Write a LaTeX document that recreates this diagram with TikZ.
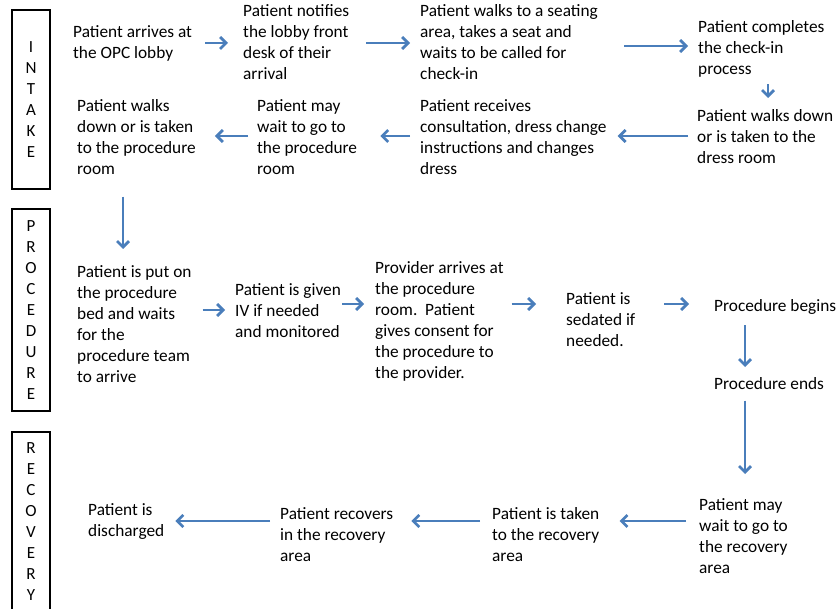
\documentclass[tikz,border=0pt]{standalone}
\usepackage{fontspec}
\setmainfont{Carlito}
\usetikzlibrary{arrows.meta}
\definecolor{arrblue}{HTML}{4A7EBB}
\begin{document}
\begin{tikzpicture}[x=1pt,y=-1pt,
  txt/.style={anchor=north west, align=left, inner sep=0pt, font=\fontsize{17.3}{21}\selectfont},
  phase/.style={draw, line width=2.7pt, minimum width=38pt, inner sep=0pt, align=center, font=\fontsize{17}{21}\selectfont},
  arr/.style={draw=arrblue, line width=2.7pt, -{Straight Barb[length=6pt,width=12pt]}}]
\useasboundingbox (0,0) rectangle (837,609);
% phase boxes
\node[phase, minimum height=179pt] (intake) at (31,99.5) {I\\N\\T\\A\\K\\E};
\node[phase, minimum height=202pt] (proc) at (31,310) {P\\R\\O\\C\\E\\D\\U\\R\\E};
\node[phase, minimum height=180pt] (recov) at (31,522) {R\\E\\C\\O\\V\\E\\R\\Y};
% intake
\node[txt] (n1) at (73,25) {Patient arrives at\\the OPC lobby};
\node[txt] (n2) at (243,4) {Patient notifies\\the lobby front\\desk of their\\arrival};
\node[txt] (n3) at (420,4) {Patient walks to a seating\\area, takes a seat and\\waits to be called for\\check-in};
\node[txt] (n4) at (698,20) {Patient completes\\the check-in\\process};
\node[txt] (n5) at (697,109) {Patient walks down\\or is taken to the\\dress room};
\node[txt] (n6) at (420,99) {Patient receives\\consultation, dress change\\instructions and changes\\dress};
\node[txt] (n7) at (257,99) {Patient may\\wait to go to\\the procedure\\room};
\node[txt] (n8) at (77,99) {Patient walks\\down or is taken\\to the procedure\\room};
% procedure
\node[txt] (n9) at (77,265) {Patient is put on\\the procedure\\bed and waits\\for the\\procedure team\\to arrive};
\node[txt] (n10) at (235,283) {Patient is given\\IV if needed\\and monitored};
\node[txt] (n11) at (375,261) {Provider arrives at\\the procedure\\room.\ \ Patient\\gives consent for\\the procedure to\\the provider.};
\node[txt] (n12) at (566,292) {Patient is\\sedated if\\needed.};
\node[txt] (n13) at (714,299) {Procedure begins};
\node[txt] (n14) at (714,377) {Procedure ends};
% recovery
\node[txt] (n15) at (699,498) {Patient may\\wait to go to\\the recovery\\area};
\node[txt] (n16) at (492,507) {Patient is taken\\to the recovery\\area};
\node[txt] (n17) at (280,507) {Patient recovers\\in the recovery\\area};
\node[txt] (n18) at (88,503) {Patient is\\discharged};
% arrows
\draw[arr, shorten <=13pt, shorten >=15pt] (n1.east |- 0,43) -- (n2.west |- 0,43);
\draw[arr, shorten <=17pt, shorten >=10pt] (n2.east |- 0,43) -- (n3.west |- 0,43);
\draw[arr, shorten <=26pt, shorten >=10pt] (n3.east |- 0,46) -- (n4.west |- 0,46);
\draw[arr, shorten <=7pt, shorten >=11pt] (n4.south -| 768,0) -- (n5.north -| 768,0);
\draw[arr, shorten <=9pt, shorten >=11pt] (n5.west |- 0,136) -- (n6.east |- 0,136);
\draw[arr, shorten <=10pt, shorten >=23pt] (n6.west |- 0,136) -- (n7.east |- 0,136);
\draw[arr, shorten <=9pt, shorten >=19pt] (n7.west |- 0,136) -- (n8.east |- 0,136);
\draw[arr, shorten <=22pt, shorten >=16pt] (n8.south -| 123,0) -- (n9.north -| 123,0);
\draw[arr, shorten <=11pt, shorten >=10pt] (n9.east |- 0,310) -- (n10.west |- 0,310);
\draw[arr, shorten <=1pt, shorten >=11pt] (n10.east |- 0,304) -- (n11.west |- 0,304);
\draw[arr, shorten <=8pt, shorten >=30pt] (n11.east |- 0,304) -- (n12.west |- 0,304);
\draw[arr, shorten <=29pt, shorten >=25pt] (n12.east |- 0,304) -- (n13.west |- 0,304);
\draw[arr, shorten <=11pt, shorten >=10pt] (n13.south -| 745,0) -- (n14.north -| 745,0);
\draw[arr, shorten <=11pt, shorten >=24pt] (n14.south -| 745,0) -- (n15.north -| 745,0);
\draw[arr, shorten <=13pt, shorten >=20pt] (n15.west |- 0,521) -- (n16.east |- 0,521);
\draw[arr, shorten <=12pt, shorten >=18pt] (n16.west |- 0,521) -- (n17.east |- 0,521);
\draw[arr, shorten <=10pt, shorten >=11pt] (n17.west |- 0,521) -- (n18.east |- 0,521);
\end{tikzpicture}
\end{document}
